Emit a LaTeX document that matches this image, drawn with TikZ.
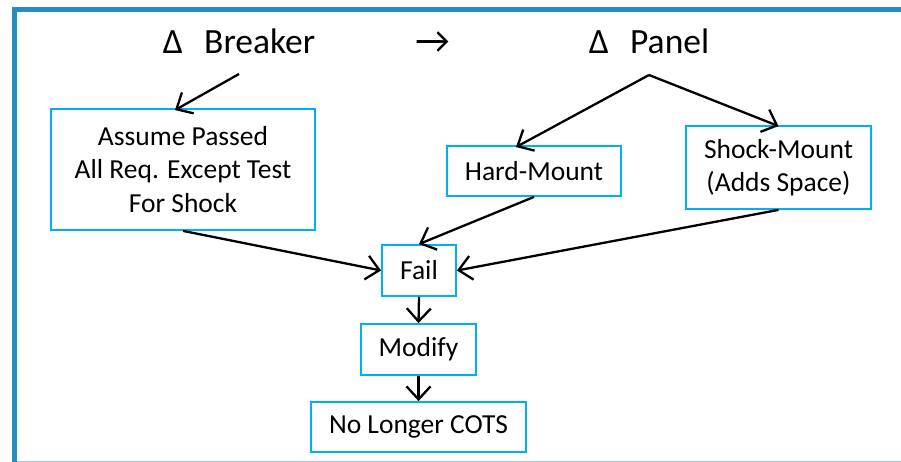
\documentclass[tikz,border=0pt]{standalone}
\usepackage{fontspec}
\setmainfont{Carlito}
\usetikzlibrary{arrows.meta}
\definecolor{framebar}{RGB}{41,139,194}
\definecolor{frameline}{RGB}{160,200,222}
\definecolor{boxline}{RGB}{0,176,240}
\begin{document}
\begin{tikzpicture}[x=1pt,y=-1pt,
  stepbox/.style={draw=boxline,line width=1.8pt,align=center,inner sep=0pt,
    font=\fontsize{27.5}{33.5}\selectfont},
  titletext/.style={anchor=base,inner sep=0pt,font=\fontsize{35.5}{40}\selectfont},
  conn/.style={line width=2.3pt,-{Straight Barb[length=13pt,width=24pt,line width=2.3pt]}}]
\useasboundingbox (0,0) rectangle (901,462);
\fill[white] (0,0) rectangle (901,462);
% slide frame
\fill[framebar] (12,7) rectangle (901,12);
\fill[framebar] (12,7) rectangle (17,462);
\draw[frameline,line width=1pt] (17,461.5) -- (901,461.5);

% titles
\node[titletext] (brk) at (239,54) {Δ\hspace{0.6em}Breaker};
\node[titletext] (tarr) at (432.5,54) {\fontsize{38}{40}\selectfont →};
\node[titletext] (pnl) at (649,54) {Δ\hspace{0.6em}Panel};
\coordinate (bsrc) at ([yshift=-20pt]brk.base);
\coordinate (psrc) at ([yshift=-21pt]pnl.base);

% boxes
\node[stepbox,minimum width=264pt,minimum height=121pt] (assume) at (183,169.5)
  {Assume Passed\\All Req. Except Test\\For Shock};
\node[stepbox,minimum width=174pt,minimum height=50pt] (hard) at (534,171) {Hard-Mount};
\node[stepbox,minimum width=185pt,minimum height=83pt] (shock) at (778.5,167.5)
  {Shock-Mount\\(Adds Space)};
\node[stepbox,minimum width=74pt,minimum height=51pt] (fail) at (419,270.5) {Fail};
\node[stepbox,minimum width=115pt,minimum height=51pt] (modify) at (418.5,349.5) {Modify};
\node[stepbox,minimum width=215pt,minimum height=50pt] (cots) at (418.5,427) {No Longer COTS};

% connectors
\draw[conn] (bsrc) -- ([xshift=-8pt,yshift=-2pt]assume.north);
\draw[conn] (psrc) -- ([xshift=-18pt,yshift=-2pt]hard.north);
\draw[conn] (psrc) -- ([yshift=-1pt]shock.north);
\draw[conn] (assume.south) -- (fail.west);
\draw[conn] (hard.south) -- (fail.north);
\draw[conn] (shock.south) -- (fail.east);
\draw[conn] (fail.south) -- (modify.north);
\draw[conn] (modify.south) -- (cots.north);
\end{tikzpicture}
\end{document}
